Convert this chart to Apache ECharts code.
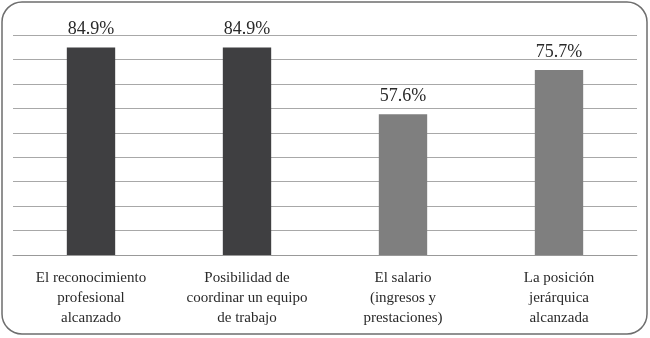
<!DOCTYPE html>
<html>
<head>
<meta charset="utf-8">
<script src="https://cdn.jsdelivr.net/npm/echarts@6/dist/echarts.min.js"></script>
<style>
  html, body { margin: 0; padding: 0; background: #fff; }
  #container { width: 650px; height: 338px; }
</style>
</head>
<body>
<div id="container"></div>
<script>
var categories = [
  "El reconocimiento\nprofesional\nalcanzado",
  "Posibilidad de\ncoordinar un equipo\nde trabajo",
  "El salario\n(ingresos y\nprestaciones)",
  "La posición\njerárquica\nalcanzada"
];
var values = [84.9, 84.9, 57.6, 75.7];
var barColors = ["#3f3f41", "#3f3f41", "#7f7f7f", "#7f7f7f"];

var myChart = echarts.init(document.getElementById("container"));
var option = {
  animation: false,
  textStyle: { fontFamily: "Liberation Serif" },
  graphic: [{
    type: "rect",
    shape: { x: 2, y: 2, width: 645, height: 332, r: 20 },
    style: { fill: "none", stroke: "#6e6e6e", lineWidth: 1.5 },
    silent: true
  }],
  grid: { left: 13, right: 13, top: 35, bottom: 83, containLabel: false },
  xAxis: {
    type: "category",
    data: categories,
    axisTick: { show: false },
    axisLine: { lineStyle: { color: "#999999", width: 1 } },
    axisLabel: {
      interval: 0,
      margin: 13,
      color: "#2a2a2a",
      fontSize: 15,
      lineHeight: 20,
      fontFamily: "Liberation Serif"
    }
  },
  yAxis: {
    type: "value",
    min: 0,
    max: 90,
    interval: 10,
    axisLabel: { show: false },
    axisLine: { show: false },
    axisTick: { show: false },
    splitLine: { lineStyle: { color: "#a8a8a8", width: 1 } }
  },
  series: [{
    type: "bar",
    barWidth: "31%",
    data: values.map(function (v, i) {
      return { value: v, itemStyle: { color: barColors[i] } };
    }),
    label: {
      show: true,
      position: "top",
      distance: 9,
      color: "#2a2a2a",
      fontSize: 18,
      fontFamily: "Liberation Serif",
      formatter: function (p) { return p.value.toFixed(1) + "%"; }
    }
  }]
};
myChart.setOption(option);
</script>
</body>
</html>
